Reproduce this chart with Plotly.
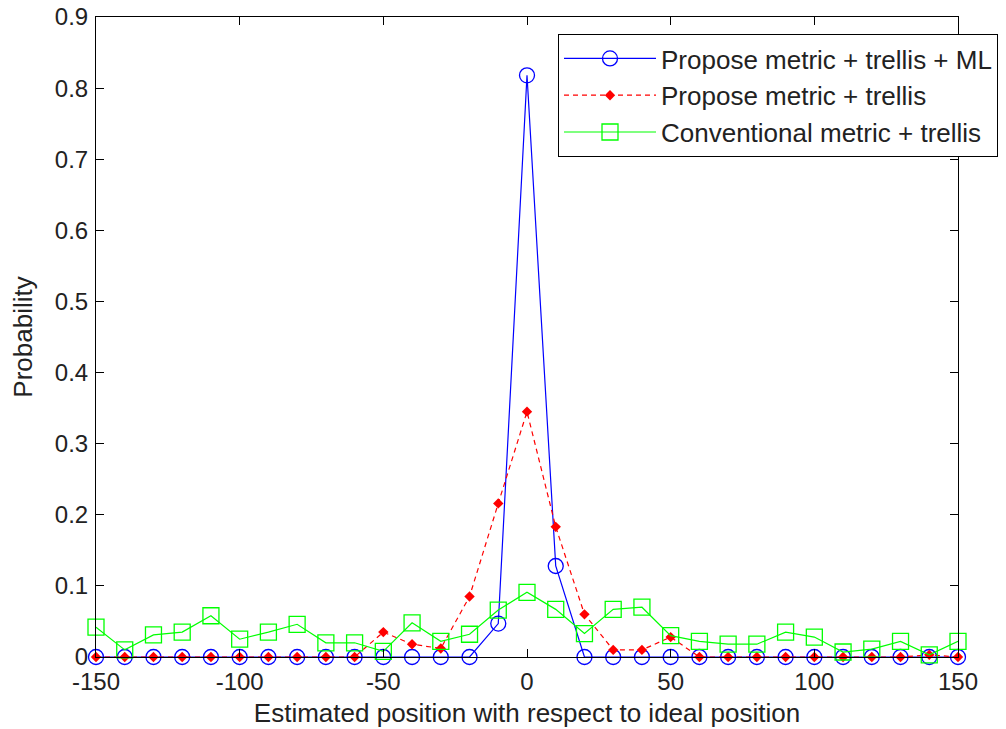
import plotly.graph_objects as go

# Estimated offset from ideal position
positions = list(range(-150, 151, 10))

# Probability for each estimator
prob_metric_trellis_ml = [0, 0, 0, 0, 0, 0, 0, 0, 0, 0,
                          0, 0, 0, 0, 0.047, 0.818, 0.128, 0, 0, 0,
                          0, 0, 0, 0, 0, 0, 0, 0, 0, 0, 0]
prob_metric_trellis = [0, 0, 0, 0, 0, 0, 0, 0, 0, 0,
                       0.035, 0.018, 0.012, 0.085, 0.216, 0.345, 0.183, 0.06, 0.01, 0.01,
                       0.028, 0, 0, 0, 0, 0, 0, 0, 0, 0.003, 0]
prob_conventional = [0.042, 0.01, 0.031, 0.035, 0.058, 0.025, 0.035, 0.046, 0.02, 0.02,
                     0.008, 0.048, 0.022, 0.032, 0.066, 0.091, 0.067, 0.033, 0.067, 0.07,
                     0.03, 0.022, 0.018, 0.018, 0.035, 0.028, 0.007, 0.011, 0.022, 0.003, 0.022]

x_ticks = [-150, -100, -50, 0, 50, 100, 150]
y_ticks = [0, 0.1, 0.2, 0.3, 0.4, 0.5, 0.6, 0.7, 0.8, 0.9]

font_family = "Liberation Sans, Arial, sans-serif"

fig = go.Figure()
fig.add_trace(go.Scatter(
    x=positions, y=prob_metric_trellis_ml, mode="lines+markers",
    name="Propose metric + trellis + ML",
    line=dict(color="#0000ff", width=1.2),
    marker=dict(symbol="circle-open", size=15, color="#0000ff", line=dict(width=1.3)),
    cliponaxis=False,
))
fig.add_trace(go.Scatter(
    x=positions, y=prob_metric_trellis, mode="lines+markers",
    name="Propose metric + trellis",
    line=dict(color="#ff0000", width=1.2, dash="5px,4px"),
    marker=dict(symbol="diamond", size=8, color="#ff0000"),
    cliponaxis=False,
))
fig.add_trace(go.Scatter(
    x=positions, y=prob_conventional, mode="lines+markers",
    name="Conventional metric + trellis",
    line=dict(color="#00ff00", width=1.2),
    marker=dict(symbol="square-open", size=16, color="#00ff00", line=dict(width=1.3)),
    cliponaxis=False,
))

axis_common = dict(
    showgrid=False, zeroline=False, showline=True, linecolor="black", linewidth=1,
    mirror="allticks", ticks="inside", ticklen=8, tickcolor="black",
    tickfont=dict(family=font_family, size=24, color="#222222"),
    automargin=False,
)

fig.update_layout(
    width=1006, height=729,
    margin=dict(l=96, r=48, t=17, b=72, autoexpand=False),
    paper_bgcolor="white", plot_bgcolor="white",
    font=dict(family=font_family, size=26, color="#222222"),
    xaxis=dict(range=[-150, 150], tickvals=x_ticks,
               ticktext=[str(v) for v in x_ticks],
               ticklabelstandoff=3,
               title=dict(text="Estimated position with respect to ideal position",
                          font=dict(size=26), standoff=10),
               **axis_common),
    yaxis=dict(range=[0, 0.9], tickvals=y_ticks,
               ticktext=[("%g" % v) for v in y_ticks],
               ticklabelstandoff=2,
               title=dict(text="Probability", font=dict(size=26), standoff=14),
               **axis_common),
    legend=dict(x=(558 - 96) / 862, y=1.0 - 17 / 640, xanchor="left", yanchor="top",
                bgcolor="white", bordercolor="black", borderwidth=1,
                font=dict(family=font_family, size=26, color="#222222"),
                itemwidth=92, tracegroupgap=0),
    showlegend=True,
)

fig.write_html("out.html")
